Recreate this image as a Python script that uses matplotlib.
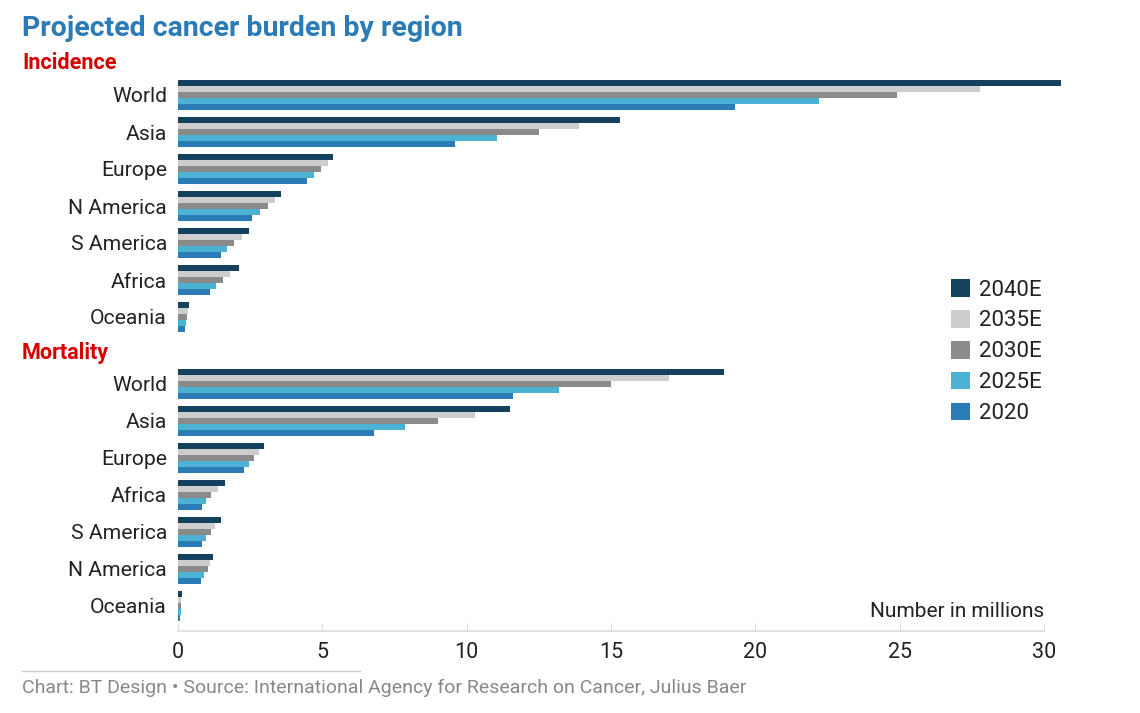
import matplotlib.pyplot as plt
import matplotlib.transforms as mtransforms
from matplotlib.patches import Patch
import numpy as np

plt.rcParams['font.family'] = ['Roboto', 'DejaVu Sans']

# Data (millions)
series = ["2040E", "2035E", "2030E", "2025E", "2020"]
colors = ["#14425e", "#cdcdcd", "#8a8a8a", "#4bb2d3", "#2b7bb6"]

inc_regions = ["World", "Asia", "Europe", "N America", "S America", "Africa", "Oceania"]
inc_2040 = [30.6, 15.3, 5.38, 3.57, 2.47, 2.12, 0.38]
inc_2035 = [27.8, 13.9, 5.19, 3.36, 2.20, 1.80, 0.33]
inc_2030 = [24.9, 12.5, 4.97, 3.12, 1.95, 1.55, 0.31]
inc_2025 = [22.2, 11.06, 4.71, 2.84, 1.71, 1.31, 0.28]
inc_2020 = [19.3, 9.6, 4.46, 2.56, 1.49, 1.12, 0.24]

mor_regions = ["World", "Asia", "Europe", "Africa", "S America", "N America", "Oceania"]
mor_2040 = [18.9, 11.5, 2.97, 1.62, 1.49, 1.22, 0.14]
mor_2035 = [17.0, 10.3, 2.81, 1.37, 1.29, 1.12, 0.11]
mor_2030 = [15.0, 9.0, 2.64, 1.15, 1.13, 1.03, 0.10]
mor_2025 = [13.2, 7.85, 2.46, 0.97, 0.96, 0.91, 0.09]
mor_2020 = [11.6, 6.8, 2.29, 0.83, 0.83, 0.81, 0.08]

inc = [inc_2040, inc_2035, inc_2030, inc_2025, inc_2020]
mor = [mor_2040, mor_2035, mor_2030, mor_2025, mor_2020]

fig = plt.figure(figsize=(11.4, 7.13), dpi=100)
ax = fig.add_axes([178 / 1140, 1 - 631 / 713, 866 / 1140, (631 - 78) / 713])

inc_pos = np.arange(len(inc_regions))
mor_pos = np.arange(len(mor_regions)) + 7.81
step = 0.162

for k, (name, col) in enumerate(zip(series, colors)):
    off = (k - 2) * step
    ax.barh(inc_pos + off, inc[k], height=step * 0.93, color=col, clip_on=False, label=name)
    ax.barh(mor_pos + off, mor[k], height=step * 0.93, color=col, clip_on=False)

ax.set_xlim(0, 30)
ax.set_ylim((631 - 95) / 37, (78 - 95) / 37)
ax.set_yticks(list(inc_pos) + list(mor_pos))
ax.set_yticklabels(inc_regions + mor_regions, fontsize=15.2, color="#222222")
ax.tick_params(axis="y", length=0, pad=8)
ax.set_xticks(range(0, 31, 5))
ax.tick_params(axis="x", direction="in", length=6, color="#dddddd", labelsize=15.5,
               labelcolor="#222222", pad=8)
for s in ["top", "right", "left"]:
    ax.spines[s].set_visible(False)
ax.spines["bottom"].set_color("#dddddd")
ax.spines["bottom"].set_linewidth(1.2)

# section labels
trans = mtransforms.blended_transform_factory(fig.transFigure, ax.transData)
ax.text(22 / 1140, -0.86, "Incidence", transform=trans, fontsize=15.5, fontweight="bold",
        color="#d60000", va="center", ha="left")
ax.text(22 / 1140, 6.97, "Mortality", transform=trans, fontsize=15.5, fontweight="bold",
        color="#d60000", va="center", ha="left")

ax.text(30, 13.95, "Number in millions", fontsize=15, color="#222222", ha="right", va="center")

fig.text(22 / 1140, 1 - 28 / 713, "Projected cancer burden by region", fontsize=20.5,
         fontweight="bold", color="#2b7bb6", ha="left", va="center")

handles = [Patch(facecolor=c, label=n) for n, c in zip(series, colors)]
fig.legend(handles=handles, loc="upper left", bbox_to_anchor=(951 / 1140, 1 - 279 / 713),
           frameon=False, fontsize=16, handlelength=0.85, handleheight=0.85,
           handletextpad=0.4, labelspacing=0.42, borderpad=0, borderaxespad=0,
           labelcolor="#222222")

fig.add_artist(plt.Line2D([22 / 1140, 360 / 1140], [1 - 671 / 713, 1 - 671 / 713],
                          color="#cccccc", linewidth=1, transform=fig.transFigure))
fig.text(22 / 1140, 1 - 688 / 713,
         "Chart: BT Design \u2022 Source: International Agency for Research on Cancer, Julius Baer",
         fontsize=14, color="#888888", ha="left", va="center")

fig.savefig("out.png", dpi=100)
